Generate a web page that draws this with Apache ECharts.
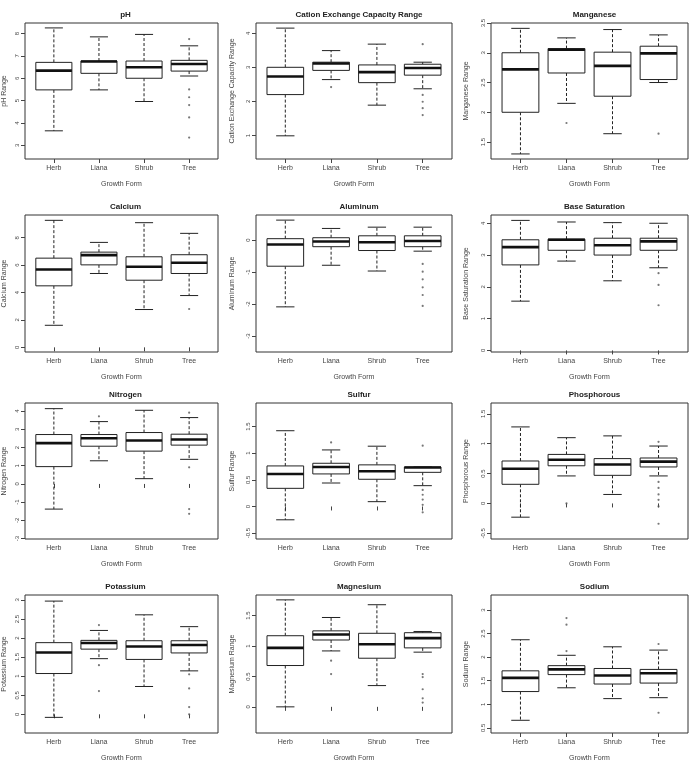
<!DOCTYPE html>
<html>
<head>
<meta charset="utf-8">
<script src="https://cdn.jsdelivr.net/npm/echarts@6/dist/echarts.min.js"></script>
<style>html,body{margin:0;padding:0;background:#fff;}#c{width:690px;height:765px;}</style>
</head>
<body>
<div id="c"></div>
<script>
// ---------- data ----------
const categories = ['Herb', 'Liana', 'Shrub', 'Tree'];
const xTitle = 'Growth Form';

const titles = ['pH', 'Cation Exchange Capacity Range', 'Manganese', 'Calcium', 'Aluminum', 'Base Saturation',
  'Nitrogen', 'Sulfur', 'Phosphorous', 'Potassium', 'Magnesium', 'Sodium'];
const yNames = ['pH Range', 'Cation Exchange Capacity Range', 'Manganese Range', 'Calcium Range', 'Aluminum Range',
  'Base Saturation Range', 'Nitrogen Range', 'Sulfur Range', 'Phosphorous Range', 'Potassium Range',
  'Magnesium Range', 'Sodium Range'];

// box stats per category: [min whisker, Q1, median, Q3, max whisker]
const pH_box = [[3.65, 5.48, 6.34, 6.71, 8.25], [5.48, 6.22, 6.75, 6.77, 7.85], [4.96, 6.0, 6.49, 6.77, 7.96], [6.1, 6.32, 6.64, 6.80, 7.45]];
const pH_out = [[], [], [], [7.75, 5.5, 5.15, 4.8, 4.25, 3.35]];
const pH_ticks = [3, 4, 5, 6, 7, 8];
const pH_lim = [2.39, 8.47];

const cec_box = [[0.99, 2.20, 2.73, 3.0, 4.15], [2.64, 2.91, 3.11, 3.15, 3.49], [1.89, 2.55, 2.86, 3.07, 3.68], [2.37, 2.77, 2.98, 3.09, 3.15]];
const cec_out = [[], [2.42], [], [3.68, 2.19, 1.99, 1.80, 1.60]];
const cec_ticks = [1, 2, 3, 4];
const cec_lim = [0.31, 4.30];

const mn_box = [[1.30, 2.0, 2.72, 3.0, 3.41], [2.15, 2.66, 3.05, 3.07, 3.25], [1.64, 2.27, 2.78, 3.01, 3.39], [2.5, 2.55, 2.99, 3.11, 3.30]];
const mn_out = [[], [1.82], [], [1.64]];
const mn_ticks = [1.5, 2, 2.5, 3, 3.5];
const mn_lim = [1.215, 3.5];

const ca_box = [[1.61, 4.49, 5.68, 6.51, 9.27], [5.39, 6.02, 6.73, 6.95, 7.66], [2.76, 4.90, 5.88, 6.61, 9.10], [3.78, 5.39, 6.17, 6.76, 8.32]];
const ca_out = [[], [], [], [2.80]];
const ca_ticks = [0, 2, 4, 6, 8];
const ca_lim = [-0.34, 9.66];

const al_box = [[-2.09, -0.82, -0.14, 0.04, 0.62], [-0.79, -0.21, -0.05, 0.07, 0.36], [-0.97, -0.33, -0.07, 0.13, 0.40], [-0.35, -0.21, -0.03, 0.13, 0.40]];
const al_out = [[], [], [], [-0.75, -0.99, -1.23, -1.48, -1.72, -2.06]];
const al_ticks = [-3, -2, -1, 0];
const al_lim = [-3.5, 0.78];

const bs_box = [[1.55, 2.69, 3.25, 3.48, 4.09], [2.81, 3.15, 3.48, 3.50, 4.04], [2.19, 3.0, 3.31, 3.53, 4.02], [2.60, 3.15, 3.43, 3.53, 4.0]];
const bs_out = [[], [], [], [2.43, 2.06, 1.42]];
const bs_ticks = [0, 1, 2, 3, 4];
const bs_lim = [-0.05, 4.26];

const n_box = [[-1.38, 0.95, 2.24, 2.71, 4.13], [1.27, 2.07, 2.51, 2.71, 3.42], [0.29, 1.80, 2.38, 2.82, 4.04], [1.35, 2.13, 2.44, 2.73, 3.64]];
const n_out = [[], [3.71], [], [3.91, 0.91, -1.38, -1.64]];
const n_ticks = [-3, -2, -1, 0, 1, 2, 3, 4];
const n_lim = [-3.02, 4.44];

const s_box = [[-0.25, 0.34, 0.61, 0.76, 1.42], [0.44, 0.61, 0.74, 0.81, 1.06], [0.09, 0.51, 0.66, 0.78, 1.13], [0.39, 0.64, 0.73, 0.74, 0.74]];
const s_out = [[], [1.20], [], [1.14, 0.31, 0.22, 0.13, 0.03, -0.11]];
const s_ticks = [-0.5, 0, 0.5, 1, 1.5];
const s_lim = [-0.61, 1.94];

const p_box = [[-0.23, 0.32, 0.58, 0.71, 1.28], [0.46, 0.63, 0.73, 0.82, 1.10], [0.15, 0.47, 0.65, 0.75, 1.13], [0.46, 0.61, 0.70, 0.76, 0.96]];
const p_out = [[], [0.0], [], [1.03, 0.36, 0.26, 0.15, 0.06, -0.05, -0.34]];
const p_ticks = [-0.5, 0, 0.5, 1, 1.5];
const p_lim = [-0.595, 1.68];

const k_box = [[-0.08, 1.07, 1.62, 1.88, 2.97], [1.46, 1.71, 1.87, 1.94, 2.20], [0.73, 1.44, 1.78, 1.93, 2.61], [1.14, 1.61, 1.82, 1.93, 2.30]];
const k_out = [[], [2.34, 1.29, 0.61], [], [1.05, 0.68, 0.19, 0.0]];
const k_ticks = [0, 0.5, 1, 1.5, 2, 2.5, 3];
const k_lim = [-0.49, 3.13];

const mg_box = [[0.0, 0.68, 0.97, 1.17, 1.76], [0.92, 1.10, 1.19, 1.25, 1.47], [0.35, 0.80, 1.03, 1.21, 1.68], [0.90, 0.97, 1.13, 1.22, 1.24]];
const mg_out = [[], [0.76, 0.54], [], [0.54, 0.49, 0.29, 0.14, 0.07]];
const mg_ticks = [0, 0.5, 1, 1.5];
const mg_lim = [-0.43, 1.84];

const na_box = [[0.66, 1.27, 1.56, 1.71, 2.37], [1.35, 1.63, 1.74, 1.82, 2.04], [1.12, 1.43, 1.61, 1.76, 2.22], [1.14, 1.45, 1.66, 1.74, 2.15]];
const na_out = [[], [2.13, 2.69, 2.83], [], [2.28, 0.82]];
const na_ticks = [0.5, 1, 1.5, 2, 2.5, 3];
const na_lim = [0.39, 3.32];

const boxes = [pH_box, cec_box, mn_box, ca_box, al_box, bs_box, n_box, s_box, p_box, k_box, mg_box, na_box];
const outs = [pH_out, cec_out, mn_out, ca_out, al_out, bs_out, n_out, s_out, p_out, k_out, mg_out, na_out];
const ticks = [pH_ticks, cec_ticks, mn_ticks, ca_ticks, al_ticks, bs_ticks, n_ticks, s_ticks, p_ticks, k_ticks, mg_ticks, na_ticks];
const lims = [pH_lim, cec_lim, mn_lim, ca_lim, al_lim, bs_lim, n_lim, s_lim, p_lim, k_lim, mg_lim, na_lim];

// ---------- layout ----------
const colLeft = [23, 256, 491];
const colWidth = [195, 196, 197];
const rowTop = [23, 215, 403, 595];
const rowHeight = [136, 137, 136, 138];
const yNameGap = [17, 20, 21];

const INK = '#222';
const LABEL = '#444';

const chart = echarts.init(document.getElementById('c'), null, { renderer: 'canvas' });

const grid = [], xAxis = [], yAxis = [], series = [], title = [];

function renderBox(params, api) {
  const x = api.value(0);
  const lo = api.coord([x, api.value(1)]);
  const q1 = api.coord([x, api.value(2)]);
  const md = api.coord([x, api.value(3)]);
  const q3 = api.coord([x, api.value(4)]);
  const hi = api.coord([x, api.value(5)]);
  const hw = api.size([0.8, 0])[0] / 2;
  const cx = md[0];
  const st = { stroke: INK, lineWidth: 1, fill: null };
  const dash = { stroke: INK, lineWidth: 1, lineDash: [3, 2] };
  return {
    type: 'group',
    children: [
      { type: 'line', shape: { x1: cx, y1: q3[1], x2: cx, y2: hi[1] }, style: dash },
      { type: 'line', shape: { x1: cx, y1: q1[1], x2: cx, y2: lo[1] }, style: dash },
      { type: 'line', shape: { x1: cx - hw / 2, y1: hi[1], x2: cx + hw / 2, y2: hi[1] }, style: st },
      { type: 'line', shape: { x1: cx - hw / 2, y1: lo[1], x2: cx + hw / 2, y2: lo[1] }, style: st },
      { type: 'rect', shape: { x: cx - hw, y: q3[1], width: 2 * hw, height: q1[1] - q3[1] }, style: { stroke: INK, lineWidth: 1, fill: '#fff' } },
      { type: 'line', shape: { x1: cx - hw, y1: md[1], x2: cx + hw, y2: md[1] }, style: { stroke: '#111', lineWidth: 2.6 } }
    ]
  };
}

for (let i = 0; i < 12; i++) {
  const r = Math.floor(i / 3), c = i % 3;
  grid.push({
    left: colLeft[c], top: rowTop[r], width: colWidth[c], height: rowHeight[r],
    show: true, borderColor: '#333', borderWidth: 1, backgroundColor: 'transparent', containLabel: false
  });
  title.push({
    text: titles[i], left: colLeft[c] + colWidth[c] / 2, top: rowTop[r] - 17, textAlign: 'center',
    textStyle: { fontSize: 8, fontWeight: 'bold', color: INK, fontFamily: 'Liberation Sans' }
  });
  xAxis.push({
    type: 'value', gridIndex: i, min: 0.36, max: 4.64,
    axisLine: { show: false },
    axisTick: { show: true, length: 4, customValues: [1, 2, 3, 4], lineStyle: { color: '#444' } },
    axisLabel: {
      customValues: [1, 2, 3, 4], formatter: v => categories[Math.round(v) - 1] || '',
      fontSize: 7, color: LABEL, margin: 6, fontFamily: 'Liberation Sans'
    },
    splitLine: { show: false },
    name: xTitle, nameLocation: 'middle', nameGap: 22,
    nameTextStyle: { fontSize: 7, color: LABEL, fontFamily: 'Liberation Sans' }
  });
  yAxis.push({
    type: 'value', gridIndex: i, min: lims[i][0], max: lims[i][1],
    axisLine: { show: false },
    axisTick: { show: true, length: 4, customValues: ticks[i], lineStyle: { color: '#444' } },
    axisLabel: {
      customValues: ticks[i], rotate: 90, fontSize: 6, color: LABEL, margin: 5,
      fontFamily: 'Liberation Sans'
    },
    splitLine: { show: false },
    name: yNames[i], nameLocation: 'middle', nameRotate: 90, nameGap: yNameGap[c],
    nameTextStyle: { fontSize: 7, color: LABEL, fontFamily: 'Liberation Sans' }
  });
  series.push({
    type: 'custom', xAxisIndex: i, yAxisIndex: i,
    renderItem: renderBox,
    encode: { x: 0, y: [1, 2, 3, 4, 5] },
    data: boxes[i].map((b, k) => [k + 1].concat(b)),
    silent: true
  });
  const pts = [];
  outs[i].forEach((arr, k) => arr.forEach(v => pts.push([k + 1, v])));
  series.push({
    type: 'scatter', xAxisIndex: i, yAxisIndex: i, data: pts,
    symbol: 'circle', symbolSize: 2.2, itemStyle: { color: '#555' }, silent: true
  });
}

chart.setOption({ animation: false, backgroundColor: '#fff', title, grid, xAxis, yAxis, series });
</script>
</body>
</html>
